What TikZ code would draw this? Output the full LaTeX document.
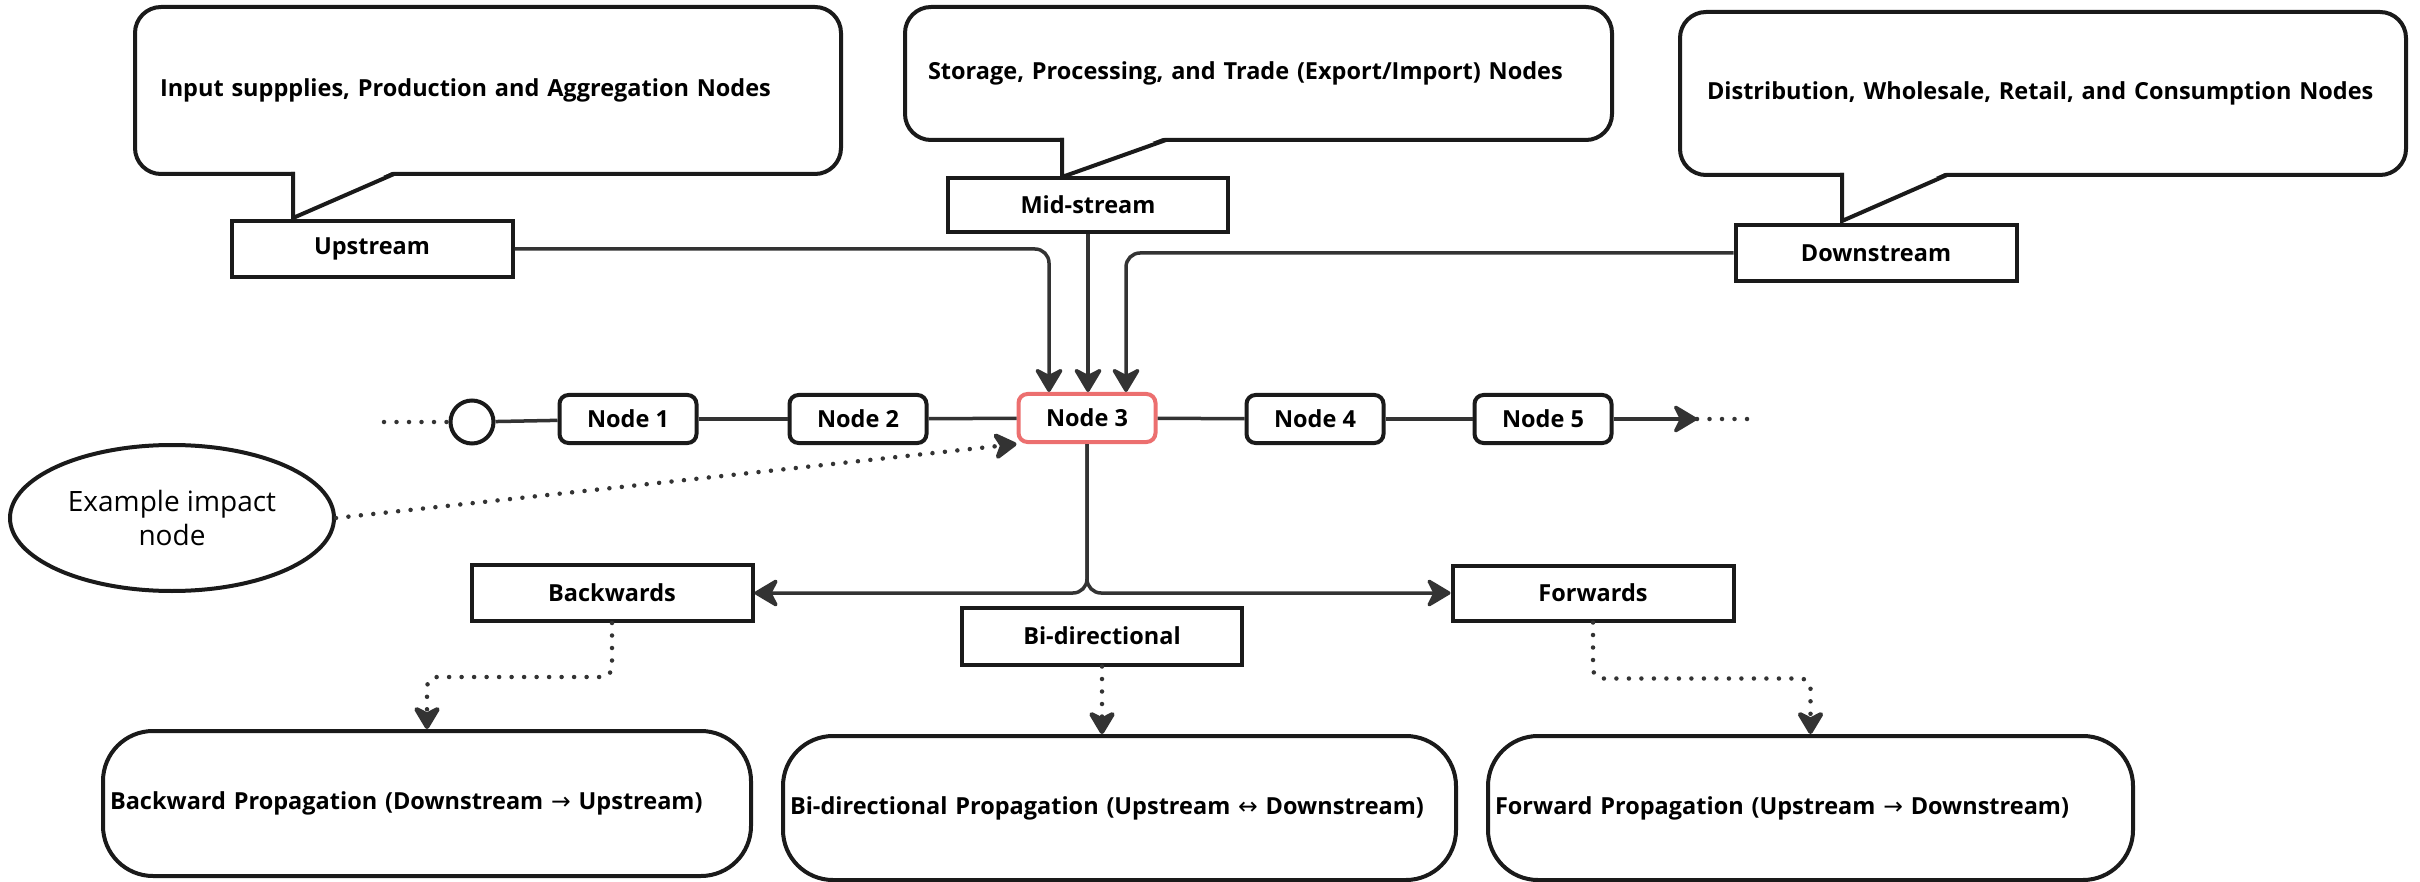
\documentclass[tikz,border=0pt]{standalone}
\usepackage{fontspec}
\setmainfont{Open Sans}
\newfontfamily\arrfont{DejaVu Sans}
\usetikzlibrary{arrows.meta,shapes.geometric}
\definecolor{linec}{HTML}{333333}
\definecolor{boxc}{HTML}{1A1A1A}
\definecolor{redc}{HTML}{EC6F6F}
\begin{document}
\begin{tikzpicture}[x=1pt,y=-1pt,
 every node/.style={inner sep=0pt},
 bfont/.style={font=\fontsize{23.5}{28}\selectfont\bfseries},
 tbox/.style={draw=boxc,line width=4pt,fill=white,minimum width=281pt,minimum height=56pt,bfont},
 cnode/.style={draw=boxc,line width=4pt,fill=white,rounded corners=9pt,minimum width=137pt,minimum height=48pt,bfont},
 callbox/.style={draw=boxc,line width=4pt,fill=white,rounded corners=26pt,bfont,align=left},
 propbox/.style={draw=boxc,line width=4pt,fill=white,rounded corners=50pt,bfont,align=left,inner xsep=7pt},
 conn/.style={draw=linec,line width=3.5pt},
 tip/.style={-{Stealth[length=27pt,width=32pt,inset=8pt,round]}},
 dotline/.style={draw=linec,line width=4.5pt,line cap=round,dash pattern=on 0pt off 12.5pt},
 pointer/.style={draw=boxc,line width=4pt,line join=miter},
]
\useasboundingbox (0,0) rectangle (2420,882);

% callouts
\node[callbox,inner xsep=25pt,text width=656pt,minimum height=167pt] (c1) at (488,90.5) {Input suppplies, Production and Aggregation Nodes};
\node[callbox,inner xsep=23pt,text width=661pt,minimum height=133pt] (c2) at (1258.5,73.5) {Storage, Processing, and Trade (Export/Import) Nodes};
\node[callbox,inner xsep=27pt,text width=672pt,minimum height=163pt] (c3) at (2043,93.5) {Distribution, Wholesale, Retail, and Consumption Nodes};
\fill[white] (295,170) -- (295,216) -- (396,170) -- cycle;
\draw[pointer] (293,172) -- (293,218) -- (394,174);
\fill[white] (1064,136) -- (1064,175) -- (1168,136) -- cycle;
\draw[pointer] (1062,138) -- (1062,177) -- (1166,140);
\fill[white] (1844,171) -- (1844,218) -- (1949,171) -- cycle;
\draw[pointer] (1842,173) -- (1842,221) -- (1947,175);

% stream boxes
\node[tbox] (up) at (372,249) {Upstream};
\node[tbox,minimum width=280pt,minimum height=54pt] (mid) at (1088,205) {Mid-stream};
\node[tbox] (down) at (1876,253) {Downstream};

% chain
\coordinate (ldot) at (384,422);
\node[circle,draw=boxc,line width=4pt,fill=white,minimum size=43pt] (circ) at (472,422) {};
\node[cnode] (n1) at (628,419) {Node 1};
\node[cnode] (n2) at (858,419) {Node 2};
\node[cnode,draw=redc] (n3) at (1087,418) {Node 3};
\node[cnode] (n4) at (1315,419) {Node 4};
\node[cnode] (n5) at (1543,419) {Node 5};
\coordinate (atip) at (1697,419);
\coordinate (rdot) at (1755,419);

\draw[dotline] (ldot) -- (circ.west);
\draw[conn] (circ) -- (n1);
\draw[conn] (n1) -- (n2);
\draw[conn] (n2) -- (n3);
\draw[conn] (n3) -- (n4);
\draw[conn] (n4) -- (n5);
\draw[conn,tip] (n5) -- (atip);
\draw[dotline] (atip) -- (rdot);

% inputs to node 3
\draw[conn,tip,rounded corners=14pt] (up.east) -| ([xshift=-38pt]n3.north);
\draw[conn,tip] (mid.south) -- (mid.south |- n3.north);
\draw[conn,tip,rounded corners=14pt] (down.west) -| ([xshift=39pt]n3.north);

% example ellipse
\node[ellipse,draw=boxc,line width=4pt,fill=white,minimum width=324pt,minimum height=146pt,align=center,font=\fontsize{28}{34}\selectfont] (ex) at (172,518) {Example impact\\node};
\draw[dotline,tip] (ex.east) -- (n3.south west);

% direction boxes
\node[tbox] (bw) at (612,593) {Backwards};
\node[tbox,minimum width=280pt,minimum height=57pt] (bi) at (1102,636) {Bi-directional};
\node[tbox,minimum height=55pt] (fw) at (1593,593) {Forwards};

\draw[conn,tip,rounded corners=14pt] (n3.south) |- (bw.east);
\draw[conn,tip,rounded corners=14pt] (n3.south) |- (fw.west);

% propagation boxes
\node[propbox,text width=634pt,minimum height=145pt] (bp) at (427,803.5) {Backward Propagation (Downstream {\arrfont\mdseries →} Upstream)};
\node[propbox,text width=659pt,minimum height=144pt] (bip) at (1119.5,808) {Bi-directional Propagation (Upstream {\arrfont\mdseries ↔} Downstream)};
\node[propbox,text width=631pt,minimum height=144pt] (fp) at (1810.5,808) {Forward Propagation (Upstream {\arrfont\mdseries →} Downstream)};

\draw[dotline,tip,rounded corners=10pt] (bw.south) -- ++(0,54) -| (bp.north);
\draw[dotline,tip] (bi.south) -- (bi.south |- bip.north);
\draw[dotline,tip,rounded corners=10pt] (fw.south) -- ++(0,56) -| (fp.north);
\end{tikzpicture}
\end{document}
